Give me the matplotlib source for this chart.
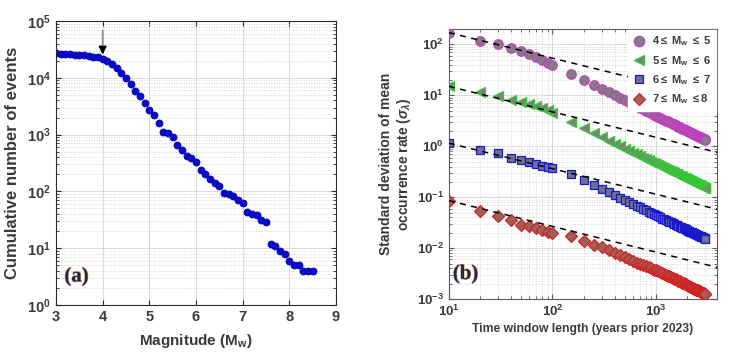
"""
Two-panel figure: (a) cumulative magnitude-frequency distribution and
(b) standard deviation of mean occurrence rate vs time window length
"""

### Import modules
import numpy as np
import matplotlib
matplotlib.use('Agg')
import matplotlib.pyplot as plt
import matplotlib.ticker as mticker
import matplotlib.patheffects as pe

### Panel (a) data: magnitude bins and cumulative counts
magnitude = [3.0, 3.1, 3.2, 3.3, 3.4, 3.5, 3.6, 3.7, 3.8, 3.9,
             4.0, 4.1, 4.2, 4.3, 4.4, 4.5, 4.6, 4.7, 4.8, 4.9,
             5.0, 5.1, 5.2, 5.3, 5.4, 5.5, 5.6, 5.7, 5.8, 5.9,
             6.0, 6.1, 6.2, 6.3, 6.4, 6.5, 6.6, 6.7, 6.8, 6.9,
             7.0, 7.1, 7.2, 7.3, 7.4, 7.5, 7.6, 7.7, 7.8, 7.9,
             8.0, 8.1, 8.2, 8.3, 8.4, 8.5]
cumcount = [27000, 26600, 26300, 26000, 25600, 25200, 24800, 24300, 23700, 23000,
            21500, 19600, 17300, 15000, 12000, 9800, 7900, 5900, 4700, 3600,
            2700, 2200, 1600, 1100, 1070, 910, 650, 530, 415, 380,
            330, 235, 200, 167, 140, 124, 95, 89, 82, 71,
            62, 44, 40, 39, 31, 29, 12, 11, 9, 8,
            6, 5, 5, 4, 4, 4]

### Panel (b) data: window length (years) and sigma for 4 magnitude ranges
window = [10, 20, 30, 40, 50, 60, 70, 80, 90, 100,
          150, 200, 250, 300, 350, 400, 450, 500, 550, 600,
          650, 700, 750, 800, 850, 900, 950, 1000, 1050, 1100,
          1150, 1200, 1250, 1300, 1350, 1400, 1450, 1500, 1550, 1600,
          1650, 1700, 1750, 1800, 1850, 1900, 1950, 2000, 2050, 2100,
          2150, 2200, 2250, 2300, 2350, 2400, 2450, 2500, 2550, 2600,
          2650, 2700, 2750, 2800, 2850, 2900, 2950, 3000]
sig45 = [170, 118, 100, 86, 75, 65, 57, 50, 44, 39,
         26, 20, 16, 13.3, 11.4, 10.0, 8.9, 8.0, 7.3, 6.7,
         6.2, 5.7, 5.3, 5.0, 4.7, 4.45, 4.2, 4.0, 3.8, 3.65,
         3.5, 3.35, 3.2, 3.1, 2.97, 2.87, 2.77, 2.68, 2.6, 2.51,
         2.44, 2.37, 2.3, 2.23, 2.17, 2.12, 2.06, 2.01, 1.96, 1.92,
         1.87, 1.83, 1.79, 1.75, 1.71, 1.68, 1.65, 1.61, 1.58, 1.55,
         1.52, 1.49, 1.47, 1.44, 1.42, 1.39, 1.37, 1.35]
sig56 = [15.2, 11.5, 9.6, 8.0, 7.4, 6.8, 6.2, 5.7, 5.2, 4.6,
         3.0, 2.25, 1.8, 1.5, 1.29, 1.13, 1.0, 0.9, 0.82, 0.75,
         0.69, 0.645, 0.6, 0.565, 0.53, 0.5, 0.475, 0.45, 0.43, 0.41,
         0.39, 0.375, 0.36, 0.345, 0.333, 0.32, 0.31, 0.3, 0.29, 0.28,
         0.273, 0.265, 0.257, 0.25, 0.243, 0.237, 0.231, 0.225, 0.22, 0.214,
         0.209, 0.205, 0.2, 0.196, 0.191, 0.187, 0.184, 0.18, 0.176, 0.173,
         0.17, 0.167, 0.164, 0.161, 0.158, 0.155, 0.152, 0.15]
sig67 = [1.15, 0.85, 0.73, 0.60, 0.54, 0.49, 0.45, 0.41, 0.40, 0.37,
         0.29, 0.22, 0.17, 0.146, 0.126, 0.11, 0.097, 0.088, 0.08, 0.074,
         0.068, 0.063, 0.059, 0.055, 0.052, 0.049, 0.047, 0.044, 0.042, 0.040,
         0.038, 0.037, 0.035, 0.034, 0.033, 0.032, 0.031, 0.030, 0.029, 0.028,
         0.0272, 0.0265, 0.0258, 0.0251, 0.0245, 0.0239, 0.0233, 0.0227, 0.0222, 0.0217,
         0.0212, 0.0207, 0.0203, 0.0199, 0.0195, 0.0191, 0.0187, 0.0183, 0.018, 0.0177,
         0.0174, 0.0171, 0.0168, 0.0165, 0.0162, 0.0159, 0.0156, 0.0153]
sig78 = [0.086, 0.054, 0.043, 0.035, 0.029, 0.027, 0.025, 0.0226, 0.021, 0.0197,
         0.017, 0.0138, 0.0117, 0.0106, 0.0091, 0.0080, 0.0072, 0.0066, 0.0061, 0.0056,
         0.0052, 0.0049, 0.0046, 0.0044, 0.0042, 0.0040, 0.0038, 0.0037, 0.0035, 0.0034,
         0.0032, 0.0031, 0.0030, 0.0029, 0.0028, 0.0027, 0.0026, 0.0025, 0.00243, 0.00236,
         0.00229, 0.00222, 0.00216, 0.0021, 0.00204, 0.00199, 0.00194, 0.00189, 0.00184, 0.0018,
         0.00176, 0.00172, 0.00168, 0.00164, 0.0016, 0.00157, 0.00154, 0.00151, 0.00148, 0.00145,
         0.00142, 0.00139, 0.00137, 0.00134, 0.00132, 0.0013, 0.00128, 0.00126]

### Dashed reference lines (end points)
fitx = [10, 3900]
fit45 = [170, 8.6]
fit56 = [15, 0.76]
fit67 = [1.15, 0.058]
fit78 = [0.086, 0.0042]

labels = [r'4$\leq$ M$_\mathbf{w}$ $\leq$ 5', r'5$\leq$ M$_\mathbf{w}$ $\leq$ 6',
          r'6$\leq$ M$_\mathbf{w}$ $\leq$ 7', r'7$\leq$ M$_\mathbf{w}$ $\leq$8']

###############################################################################
### Plot figure
plt.rcParams['font.family'] = ['Liberation Sans', 'DejaVu Sans']
plt.rcParams['font.weight'] = 'bold'
plt.rcParams['axes.labelweight'] = 'bold'
plt.rcParams['mathtext.fontset'] = 'custom'
plt.rcParams['mathtext.rm'] = 'Liberation Sans:bold'
plt.rcParams['mathtext.bf'] = 'Liberation Sans:bold'
plt.rcParams['mathtext.it'] = 'Liberation Sans:italic:bold'
plt.rcParams['axes.unicode_minus'] = False

txtcol = '#3a3a3a'
gridcol = '#d4d4d4'

fig = plt.figure(figsize=(7.31, 3.63), dpi=100)

def boldpow(v, pos):
    return r'$\mathbf{10^{%d}}$' % int(round(np.log10(v)))

def style_axes(ax, spinecol):
    for s in ax.spines.values():
        s.set_color(spinecol)
        s.set_linewidth(0.8)
    ax.tick_params(which='both', direction='in', top=True, right=True,
                   colors=spinecol, labelcolor=txtcol)
    ax.tick_params(which='major', length=3.5)
    ax.tick_params(which='minor', length=2)
    ax.set_axisbelow(True)

### Panel (a)
ax1 = fig.add_axes([0.0766, 0.160, 0.383, 0.782])
style_axes(ax1, '#2a2a2a')
ax1.set_yscale('log')
ax1.plot(magnitude, cumcount, 'o', ms=5, color='#0a0ad2', mec='#0000a0', mew=0.6)
ax1.set_xlim([3, 9])
ax1.set_ylim([1, 1e5])
ax1.set_xticks(np.arange(3, 10, 1))
ax1.yaxis.set_major_locator(mticker.LogLocator(base=10, numticks=10))
ax1.yaxis.set_minor_locator(mticker.LogLocator(base=10, subs=np.arange(2, 10), numticks=20))
ax1.yaxis.set_major_formatter(mticker.FuncFormatter(boldpow))
ax1.yaxis.set_minor_formatter(mticker.NullFormatter())
ax1.tick_params(labelsize=10.5)
ax1.grid(True, which='major', color=gridcol, lw=0.6, ls='-')
ax1.grid(True, which='minor', axis='y', color='#c8c8c8', lw=0.6, ls=(0, (1, 2)))
ax1.set_xlabel(r'Magnitude (M$_\mathbf{w}$)', fontsize=11, color=txtcol, labelpad=6)
ax1.set_ylabel('Cumulative number of events', fontsize=12, color=txtcol, labelpad=5)

ax1.annotate('', xy=(4.0, 3.4e4), xytext=(4.0, 7.6e4),
             arrowprops=dict(arrowstyle='-', color='#8a8a8a', lw=1.2))
ax1.annotate('', xy=(4.0, 2.3e4), xytext=(4.0, 3.6e4),
             arrowprops=dict(arrowstyle='-|>', color='k', lw=1.0, mutation_scale=12))

ax1.text(0.03, 0.10, '(a)', transform=ax1.transAxes, fontsize=15,
         family='Liberation Serif', weight='bold', color='#1c2a52',
         ha='left', va='center',
         path_effects=[pe.withStroke(linewidth=0.8, foreground='#d9a060')])

### Panel (b)
ax2 = fig.add_axes([0.614, 0.176, 0.367, 0.744])
style_axes(ax2, '#5a5a5a')
ax2.set_xscale('log')
ax2.set_yscale('log')

series = [sig45, sig56, sig67, sig78]
fits = [fit45, fit56, fit67, fit78]
marks = ['o', '<', 's', 'D']
sizes = [6.8, 6.8, 5.2, 5.8]
faces = ['#7f7f7f', '#7f7f7f', '#6e7092', '#a0605a']
edges = ['#c43cc4', '#2fcf2f', '#1a1acc', '#d42020']

for i in range(len(series)):
    ax2.plot(window, series[i], marks[i], ms=sizes[i], mfc=faces[i],
             mec=edges[i], mew=0.9, label=labels[i], zorder=3)
for i in range(len(fits)):
    ax2.plot(fitx, fits[i], '--', color='k', lw=1.1, dashes=(4, 3.5), zorder=4)

ax2.set_xlim([10, 3900])
ax2.set_ylim([1e-3, 200])
ax2.xaxis.set_major_locator(mticker.LogLocator(base=10, numticks=10))
ax2.yaxis.set_major_locator(mticker.LogLocator(base=10, numticks=10))
for a in [ax2.xaxis, ax2.yaxis]:
    a.set_minor_locator(mticker.LogLocator(base=10, subs=np.arange(2, 10), numticks=20))
    a.set_major_formatter(mticker.FuncFormatter(boldpow))
    a.set_minor_formatter(mticker.NullFormatter())
ax2.tick_params(labelsize=9.5)
ax2.grid(True, which='major', color=gridcol, lw=0.6, ls='-')
ax2.grid(True, which='minor', color='#c8c8c8', lw=0.6, ls=(0, (1, 2)))
ax2.set_xlabel('Time window length (years prior 2023)', fontsize=8.7,
               color=txtcol, labelpad=3)
ax2.set_ylabel('Standard deviation of mean\n' + r'occurrence rate ($\sigma_\lambda$)',
               fontsize=10, color=txtcol, labelpad=3, linespacing=1.1)

leg = ax2.legend(loc='upper right', fontsize=8, frameon=True, fancybox=False,
                 borderaxespad=0.1, handletextpad=0.6, labelspacing=0.5,
                 borderpad=0.4, handlelength=1.2, markerscale=1.1)
leg.get_frame().set_facecolor('white')
leg.get_frame().set_edgecolor('white')
leg.get_frame().set_alpha(1)
leg.set_zorder(6)
for t in leg.get_texts():
    t.set_color(txtcol)

ax2.text(0.015, 0.093, '(b)', transform=ax2.transAxes, fontsize=15,
         family='Liberation Serif', weight='bold', color='#1c2a52',
         ha='left', va='center',
         path_effects=[pe.withStroke(linewidth=0.8, foreground='#d9a060')])

plt.savefig('out.png', dpi=100)
